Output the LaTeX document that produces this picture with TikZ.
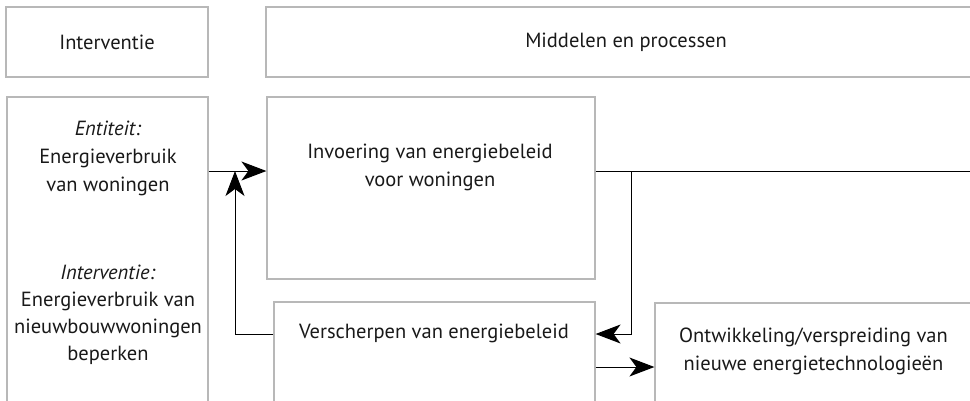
\documentclass[tikz,border=0pt]{standalone}
\usepackage{fontspec}
\setmainfont{PT Sans}
\usetikzlibrary{arrows.meta}
\begin{document}
\begin{tikzpicture}[x=1pt,y=-1pt,
  box/.style={draw=black!28,line width=1.2pt,rectangle,inner sep=0pt},
  txt/.style={align=center,font=\fontsize{20.5}{28}\selectfont,text=black!90,inner sep=0pt},
  conn/.style={draw=black,line width=1pt},
  arr/.style={conn,-{Stealth[length=25pt,width=19pt,inset=7pt]}}]
\useasboundingbox (0,0) rectangle (970,400);
\clip (0,0) rectangle (970,400);
% boxes
\node[box,minimum width=202pt,minimum height=70pt] (hintv) at (107,42) {};
\node[box,minimum width=720pt,minimum height=70pt] (hmid) at (626,42) {};
\node[box,minimum width=201pt,minimum height=340pt] (ent) at (107.5,267) {};
\node[box,minimum width=328pt,minimum height=182pt] (inv) at (431,188) {};
\node[box,minimum width=321pt,minimum height=140pt] (vers) at (434.5,372) {};
\node[box,minimum width=317pt,minimum height=140pt] (ontw) at (813.5,373) {};
% texts
\node[txt] (thintv) at (107,42) {Interventie};
\node[txt] (thmid) at (626,42) {Middelen en processen};
\node[txt] (tent) at (108,158.5) {\textit{Entiteit:}\\Energieverbruik\\van woningen};
\node[txt,font=\fontsize{20.5}{27}\selectfont] (tint) at (108,315) {\textit{Interventie:}\\Energieverbruik van\\nieuwbouwwoningen\\beperken};
\node[txt] (tinv) at (430,167.5) {Invoering van energiebeleid\\voor woningen};
\node[txt] (tvers) at (434,333) {Verscherpen van energiebeleid};
\node[txt] (tontw) at (813.5,351) {Ontwikkeling/verspreiding van\\nieuwe energietechnologieën};
% helper coordinates
\coordinate (yA) at (0,171);
\coordinate (yB) at (0,334);
\coordinate (yD) at (0,367);
\coordinate (xC) at (235,0);
\coordinate (xE) at (631,0);
\coordinate (rend) at (975,171);
% connectors
\draw[arr] (yA -| ent.east) -- (yA -| inv.west);
\draw[arr] (yB -| vers.west) -| (xC |- yA);
\draw[conn] (yA -| inv.east) -- (rend);
\draw[arr] (xE |- yA) |- (yB -| vers.east);
\draw[arr] (yD -| vers.east) -- (yD -| ontw.west);
\end{tikzpicture}
\end{document}
